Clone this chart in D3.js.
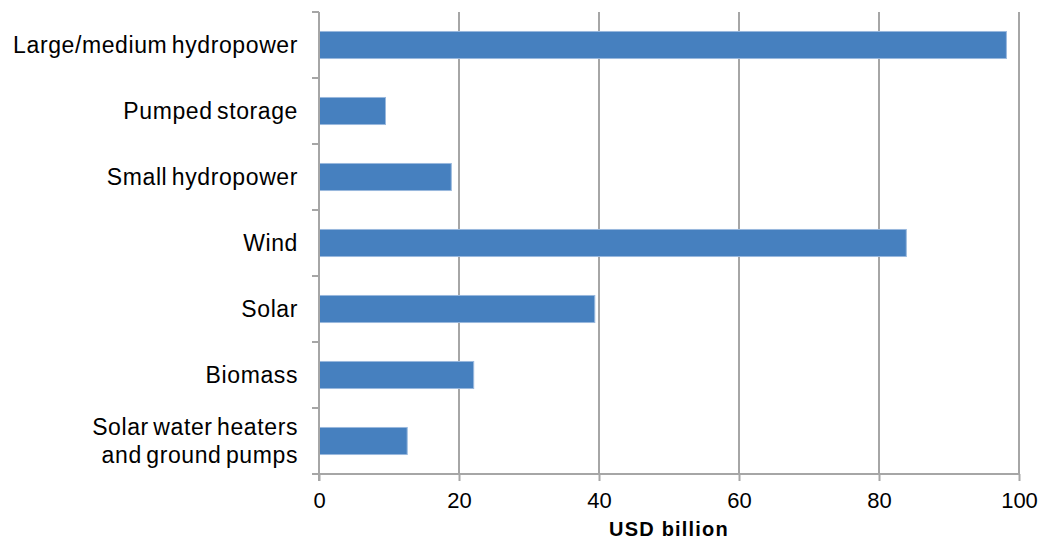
<!DOCTYPE html>
<html>
<head>
<meta charset="utf-8">
<script src="https://cdn.jsdelivr.net/npm/d3@7"></script>
<style>
  html, body { margin: 0; padding: 0; background: #ffffff; }
  svg { display: block; font-family: "Liberation Sans", Arial, sans-serif; }
</style>
</head>
<body>
<svg id="chart" width="1045" height="540"></svg>
<script>
// Investment by renewable technology, USD billion
const categories = [
  "Large/medium hydropower",
  "Pumped storage",
  "Small hydropower",
  "Wind",
  "Solar",
  "Biomass",
  "Solar water heaters|and ground pumps"
];
const values = [98.2, 9.5, 18.9, 83.9, 39.4, 22.1, 12.6];
const xTicks = [0, 20, 40, 60, 80, 100];
const xTitle = "USD billion";

const svg = d3.select("#chart");
const margin = { left: 319, right: 26, top: 12, bottom: 66 };
const W = 1045, H = 540;

const x = d3.scaleLinear().domain([0, 100]).range([margin.left, W - margin.right]);
const y = d3.scaleBand().domain(categories).range([margin.top, H - margin.bottom]).paddingInner(0.59).paddingOuter(0.295);
const yb = d3.scaleBand().domain(categories).range([margin.top, H - margin.bottom]);

const grid = "#a6a6a6";

// vertical gridlines
svg.append("g")
  .selectAll("line")
  .data(xTicks.slice(1))
  .join("line")
  .attr("x1", d => x(d)).attr("x2", d => x(d))
  .attr("y1", margin.top).attr("y2", H - margin.bottom)
  .attr("stroke", grid).attr("stroke-width", 2);

// bars
svg.append("g")
  .selectAll("rect")
  .data(categories)
  .join("rect")
  .attr("x", x(0))
  .attr("y", d => y(d))
  .attr("width", (d, i) => x(values[i]) - x(0))
  .attr("height", y.bandwidth())
  .attr("fill", "#4680bf")
  .attr("stroke", "#9ab9de")
  .attr("stroke-width", 1);

// x axis
const xAxis = d3.axisBottom(x).tickValues(xTicks).tickSize(7).tickPadding(11).tickFormat(d3.format("d"));
const gx = svg.append("g")
  .attr("transform", `translate(0,${H - margin.bottom})`)
  .call(xAxis);
gx.select(".domain").attr("stroke", grid).attr("stroke-width", 2).attr("d", `M${x(0)},0H${x(100)}`);
gx.selectAll(".tick line").attr("stroke", grid).attr("stroke-width", 2);
gx.selectAll(".tick text").attr("font-size", 22).attr("fill", "#000")
  .attr("font-family", "Liberation Sans, Arial, sans-serif");

// y axis line and category separator ticks
svg.append("line")
  .attr("x1", x(0)).attr("x2", x(0))
  .attr("y1", margin.top).attr("y2", H - margin.bottom + 7)
  .attr("stroke", grid).attr("stroke-width", 2);
const bounds = categories.map(c => yb(c)).concat([H - margin.bottom]);
svg.append("g")
  .selectAll("line")
  .data(bounds)
  .join("line")
  .attr("x1", x(0) - 7).attr("x2", x(0))
  .attr("y1", d => d).attr("y2", d => d)
  .attr("stroke", grid).attr("stroke-width", 2);

// category labels (multi-line entries split on "|")
const lineGap = 28;
svg.append("g")
  .selectAll("text")
  .data(categories)
  .join("text")
  .attr("text-anchor", "end")
  .attr("font-size", 23)
  .attr("letter-spacing", 0.6)
  .attr("word-spacing", -2.5)
  .attr("fill", "#000")
  .each(function (d) {
    const parts = d.split("|");
    const t = d3.select(this);
    const mid = yb(d) + yb.bandwidth() / 2;
    const first = mid + 7.5 - (parts.length - 1) * lineGap / 2;
    parts.forEach((p, i) => {
      t.append("tspan")
        .attr("x", 298)
        .attr("y", first + i * lineGap)
        .text(p);
    });
  });

// axis title
svg.append("text")
  .attr("x", (x(0) + x(100)) / 2)
  .attr("y", 536)
  .attr("text-anchor", "middle")
  .attr("font-size", 20)
  .attr("font-weight", "bold")
  .attr("letter-spacing", 1.2)
  .attr("fill", "#000")
  .text(xTitle);
</script>
</body>
</html>
